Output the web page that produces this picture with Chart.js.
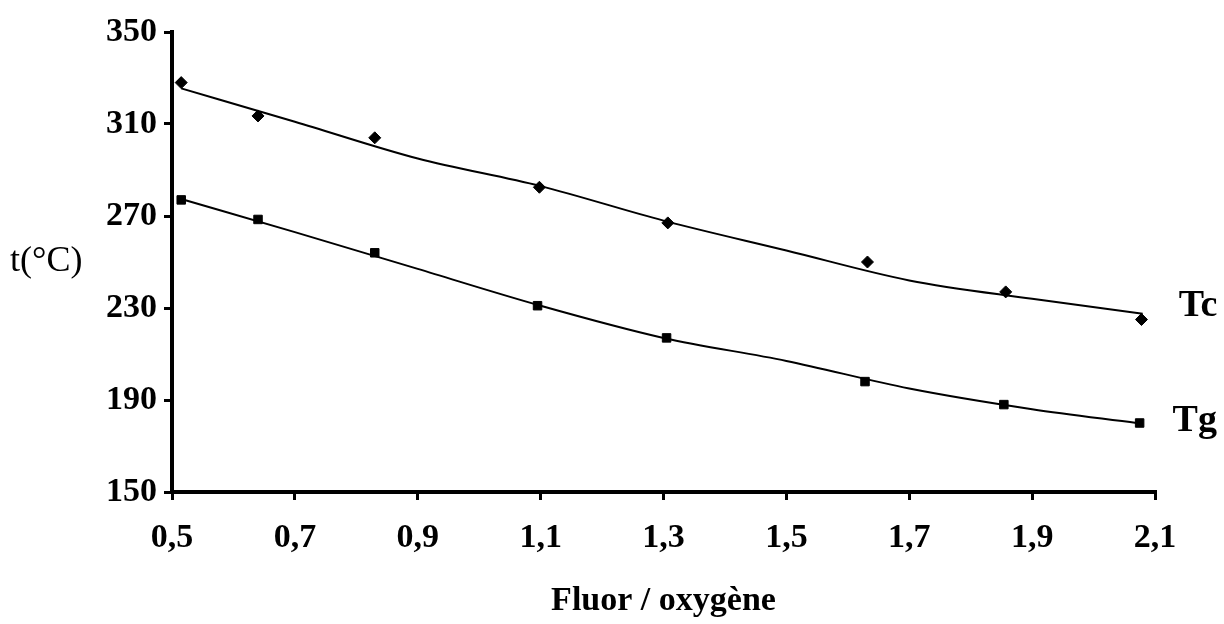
<!DOCTYPE html>
<html>
<head>
<meta charset="utf-8">
<script src="https://cdn.jsdelivr.net/npm/chart.js@4.4.1/dist/chart.umd.min.js"></script>
<style>
  html, body { margin: 0; padding: 0; background: #fff; }
  #chartContainer { width: 1224px; height: 624px; }
</style>
</head>
<body>
<div id="chartContainer"><canvas id="chart"></canvas></div>
<script>
// measured points (ratio fluor / oxygene)
const tcX = [0.515, 0.64, 0.83, 1.098, 1.307, 1.632, 1.857, 2.078];
const tcY = [328, 313.5, 304, 282.5, 267, 250, 237, 225];
const tgX = [0.515, 0.64, 0.83, 1.095, 1.305, 1.628, 1.854, 2.075];
const tgY = [277, 268.5, 254, 231, 217, 198, 188, 180];

// smooth trend curves
const tcCurveX = [0.515, 0.7, 0.9, 1.1, 1.3, 1.5, 1.7, 1.9, 2.08];
const tcCurveY = [325.5, 311, 295, 283, 268, 255, 242, 234, 227.5];
const tgCurveX = [0.515, 0.7, 0.9, 1.1, 1.3, 1.5, 1.7, 1.9, 2.07];
const tgCurveY = [277.4, 263, 247, 231, 217, 207, 195, 186, 180];

const seriesNames = ['Tc', 'Tg'];
const xTitle = 'Fluor / oxygène';
const yTitle = 't(°C)';

const serif = "'Liberation Serif', 'DejaVu Serif', serif";

function pts(xs, ys) {
  return xs.map((x, i) => ({ x: x, y: ys[i] }));
}

// y title written flat on the left, and Tc / Tg next to the end of each curve
const labelPlugin = {
  id: 'labelPlugin',
  afterDraw(chart) {
    const c = chart.ctx;
    c.save();
    c.fillStyle = '#000';
    c.font = '36px ' + serif;
    c.textBaseline = 'middle';
    c.textAlign = 'left';
    c.fillText(yTitle, 10, 262);

    c.font = 'bold 38px ' + serif;
    const offsets = [-8, -2];
    [2, 3].forEach((di, k) => {
      const meta = chart.getDatasetMeta(di);
      const last = meta.data[meta.data.length - 1];
      c.fillText(seriesNames[k], last.x + 36, last.y + offsets[k]);
    });
    c.restore();
  }
};

const ctx = document.querySelector('#chart');

const newChart = new Chart(ctx, {
  type: 'scatter',
  data: {
    datasets: [
      {
        label: 'Tc',
        data: pts(tcX, tcY),
        pointStyle: 'rectRot',
        pointRadius: 6,
        backgroundColor: '#000',
        borderColor: '#000',
        showLine: false
      },
      {
        label: 'Tg',
        data: pts(tgX, tgY),
        pointStyle: 'rect',
        pointRadius: 6,
        backgroundColor: '#000',
        borderColor: '#000',
        showLine: false
      },
      {
        label: 'Tc curve',
        data: pts(tcCurveX, tcCurveY),
        showLine: true,
        pointRadius: 0,
        borderColor: '#000',
        borderWidth: 2,
        cubicInterpolationMode: 'monotone'
      },
      {
        label: 'Tg curve',
        data: pts(tgCurveX, tgCurveY),
        showLine: true,
        pointRadius: 0,
        borderColor: '#000',
        borderWidth: 2,
        cubicInterpolationMode: 'monotone'
      }
    ]
  },
  options: {
    responsive: true,
    maintainAspectRatio: false,
    animation: false,
    layout: { padding: { top: 32, right: 69, left: 0, bottom: 0 } },
    plugins: {
      legend: { display: false },
      tooltip: { enabled: false }
    },
    scales: {
      x: {
        type: 'linear',
        min: 0.5,
        max: 2.1,
        afterFit(scale) { scale.height = 132; },
        border: { color: '#000', width: 4 },
        grid: { drawOnChartArea: false, color: '#000', tickLength: 8, lineWidth: 3 },
        ticks: {
          stepSize: 0.2,
          color: '#000',
          padding: 18,
          font: { family: serif, size: 34, weight: 'bold' },
          callback: v => v.toFixed(1).replace('.', ',')
        },
        title: {
          display: true,
          text: xTitle,
          color: '#000',
          font: { family: serif, size: 34, weight: 'bold' },
          padding: { top: 4, bottom: 2 }
        }
      },
      y: {
        min: 150,
        max: 350,
        afterFit(scale) { scale.width = 172; },
        border: { color: '#000', width: 4 },
        grid: { drawOnChartArea: false, color: '#000', tickLength: 8, lineWidth: 3 },
        ticks: {
          stepSize: 40,
          color: '#000',
          padding: 7,
          font: { family: serif, size: 34, weight: 'bold' }
        }
      }
    }
  },
  plugins: [labelPlugin]
});
</script>
</body>
</html>
